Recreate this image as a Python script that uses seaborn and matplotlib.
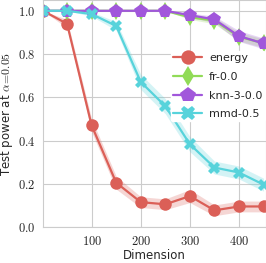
import numpy as np
import pandas as pd
import matplotlib
matplotlib.use("Agg")
import matplotlib.pyplot as plt
import seaborn as sns
from matplotlib.ticker import FuncFormatter

# data
dims = [1, 50, 100, 150, 200, 250, 300, 350, 400, 450]
energy = [1.0, 0.94, 0.47, 0.205, 0.115, 0.105, 0.143, 0.077, 0.095, 0.095]
energy_err = [0.0, 0.02, 0.03, 0.03, 0.025, 0.025, 0.03, 0.025, 0.025, 0.025]
fr = [1.0, 1.0, 1.0, 1.0, 1.0, 1.0, 0.97, 0.955, 0.88, 0.85]
fr_err = [0.0, 0.0, 0.0, 0.0, 0.0, 0.0, 0.01, 0.015, 0.02, 0.02]
knn = [1.0, 1.0, 1.0, 1.0, 1.0, 1.0, 0.98, 0.96, 0.883, 0.849]
knn_err = [0.0, 0.0, 0.0, 0.0, 0.0, 0.0, 0.01, 0.015, 0.025, 0.025]
mmd = [1.0, 1.0, 0.985, 0.93, 0.671, 0.559, 0.383, 0.275, 0.252, 0.196]
mmd_err = [0.0, 0.0, 0.01, 0.02, 0.035, 0.035, 0.035, 0.03, 0.03, 0.03]

series = {
    "energy": (energy, energy_err, "o", 9),
    "fr-0.0": (fr, fr_err, "d", 9),
    "knn-3-0.0": (knn, knn_err, "p", 10),
    "mmd-0.5": (mmd, mmd_err, "X", 9),
}

sns.set_style("whitegrid")
plt.rcParams["font.family"] = ["DejaVu Sans"]
plt.rcParams["mathtext.fontset"] = "cm"

hls = sns.color_palette("hls", 4)
colors = {"energy": hls[0], "fr-0.0": hls[1], "knn-3-0.0": hls[3], "mmd-0.5": hls[2]}

fig = plt.figure(figsize=(2.66, 2.63), dpi=100)
ax = fig.add_axes([43 / 266, 36 / 263, 1 - 43 / 266, 227 / 263])

for name, (vals, err, marker, ms) in series.items():
    df = pd.DataFrame({"Dimension": dims, "power": vals})
    sns.lineplot(data=df, x="Dimension", y="power", ax=ax, color=colors[name],
                 marker=marker, markersize=ms, markeredgewidth=0, linewidth=1.6,
                 label=name)
    lo = np.array(vals) - np.array(err)
    hi = np.array(vals) + np.array(err)
    ax.fill_between(dims, lo, hi, color=colors[name], alpha=0.25, linewidth=0)

ax.set_xlim(1, 455)
ax.set_ylim(0, 1.05)
ax.set_xticks([100, 200, 300, 400])
ax.set_yticks([0.0, 0.2, 0.4, 0.6, 0.8, 1.0])
ax.xaxis.set_major_formatter(FuncFormatter(lambda v, p: f"${v:.0f}$"))
ax.yaxis.set_major_formatter(FuncFormatter(lambda v, p: f"${v:.1f}$"))
ax.tick_params(labelsize=9, pad=2)
ax.set_xlabel("Dimension", fontsize=8.5, labelpad=1)
ax.set_ylabel(r"Test power at $\alpha\!=\!0.05$", fontsize=8.5, labelpad=2)

leg = ax.legend(loc="upper left", bbox_to_anchor=(0.55, 0.80), fontsize=8,
                frameon=True, framealpha=1.0, edgecolor="white",
                handlelength=2.6, labelspacing=0.78, borderpad=0.2,
                handletextpad=0.6, markerscale=1.15)

fig.savefig("out.png", dpi=100)
